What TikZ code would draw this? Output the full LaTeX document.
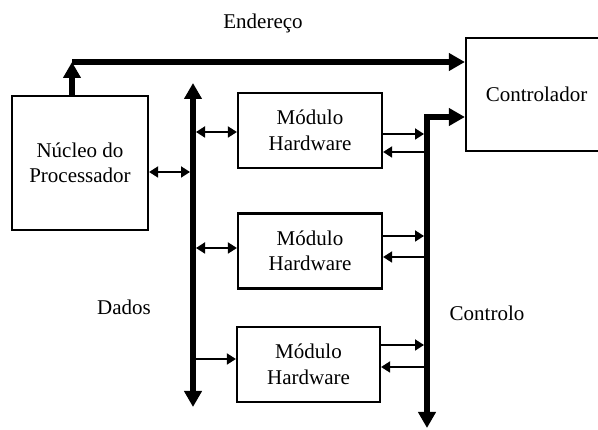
\documentclass[tikz,border=0pt]{standalone}
\usepackage{fontspec}
\setmainfont{Liberation Serif}
\newfontfamily\tnrfont{Liberation Serif}
\usetikzlibrary{arrows.meta}
\begin{document}
\begin{tikzpicture}[x=1pt,y=-1pt,
  box/.style={draw, line width=2.2pt, inner sep=0pt, align=center, font=\tnrfont\fontsize{21}{25.5}\selectfont},
  lbl/.style={font=\tnrfont\fontsize{21}{25}\selectfont, anchor=base, inner sep=0pt},
  bus/.style={line width=6pt},
  sig/.style={line width=1.8pt},
  BigT/.tip={Triangle[length=16pt,width=17pt]},
  SmT/.tip={Triangle[length=9pt,width=11pt]}]
\useasboundingbox (0,0) rectangle (598,430);
\clip (0,0) rectangle (598,430);

% blocks
\node[box, minimum width=136pt, minimum height=134pt] (proc) at (80,163) {Núcleo do\\Processador};
\node[box, minimum width=141pt, minimum height=113pt] (ctrl) at (536.5,94.5) {Controlador};
\node[box, minimum width=144pt, minimum height=75pt] (m1) at (310,130.5) {Módulo\\Hardware};
\node[box, minimum width=144pt, minimum height=75pt] (m2) at (310,251) {Módulo\\Hardware};
\node[box, minimum width=143pt, minimum height=75pt] (m3) at (308.5,364.5) {Módulo\\Hardware};

% labels
\node[lbl] (lend) at (263,29) {Endereço};
\node[lbl] (ldad) at (124,315) {Dados};
\node[lbl] (lctl) at (487,321) {Controlo};

% bus coordinates
\coordinate (dbtop) at (193,83);
\coordinate (dbbot) at (193,407);
\coordinate (cbtop) at (427,117);
\coordinate (cbbot) at (427,428);
\coordinate (addr) at (72,62);

% buses
\draw[bus,{BigT}-{BigT}] (dbtop) -- (dbbot);
\draw[bus,-{BigT}] (proc.north -| addr) -- (addr);
\draw[bus,-{BigT}] (addr) -- (ctrl.west |- addr);
\draw[bus,{BigT}-{BigT}] (ctrl.west |- cbtop) -- (cbtop) -- (cbbot);

% data bus taps
\coordinate (dp) at (190,172);
\coordinate (d1) at (196,132);
\coordinate (d2) at (196,248);
\coordinate (d3) at (196,359);
\draw[sig,{SmT}-{SmT}] (proc.east |- dp) -- (dp);
\draw[sig,{SmT}-{SmT}] (d1) -- (m1.west |- d1);
\draw[sig,{SmT}-{SmT}] (d2) -- (m2.west |- d2);
\draw[sig,-{SmT}] (d3) -- (m3.west |- d3);

% control bus taps
\coordinate (c1a) at (424,134);
\coordinate (c1b) at (424,152);
\coordinate (c2a) at (424,236);
\coordinate (c2b) at (424,257);
\coordinate (c3a) at (424,345);
\coordinate (c3b) at (424,367);
\draw[sig,-{SmT}] (m1.east |- c1a) -- (c1a);
\draw[sig,-{SmT}] (c1b) -- (m1.east |- c1b);
\draw[sig,-{SmT}] (m2.east |- c2a) -- (c2a);
\draw[sig,-{SmT}] (c2b) -- (m2.east |- c2b);
\draw[sig,-{SmT}] (m3.east |- c3a) -- (c3a);
\draw[sig,-{SmT}] (c3b) -- (m3.east |- c3b);
\end{tikzpicture}
\end{document}
